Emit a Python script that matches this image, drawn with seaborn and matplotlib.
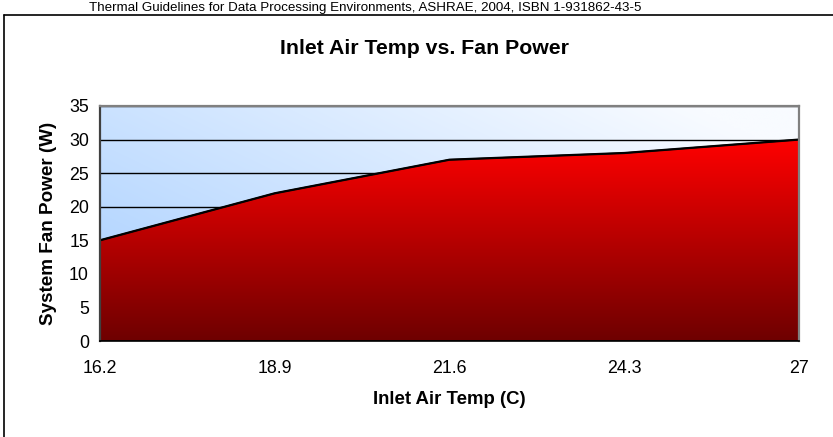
import numpy as np
import pandas as pd
import seaborn as sns
import matplotlib.pyplot as plt
from matplotlib.lines import Line2D
from matplotlib.colors import LinearSegmentedColormap

# ---- data ----
temps = ["16.2", "18.9", "21.6", "24.3", "27"]
power = [15, 22, 27, 28, 30]
yticks = [0, 5, 10, 15, 20, 25, 30, 35]

title = "Inlet Air Temp vs. Fan Power"
xlabel = "Inlet Air Temp (C)"
ylabel = "System Fan Power (W)"
source = "Thermal Guidelines for Data Processing Environments, ASHRAE, 2004, ISBN 1-931862-43-5"

df = pd.DataFrame({"pos": np.arange(len(temps)), "power": power})

sns.set_theme(style="white")
plt.rcParams['font.family'] = ['Liberation Sans', 'DejaVu Sans']
plt.rcParams['text.color'] = 'black'
plt.rcParams['axes.labelcolor'] = 'black'
plt.rcParams['xtick.color'] = 'black'
plt.rcParams['ytick.color'] = 'black'

W, H = 833, 437
fig = plt.figure(figsize=(W / 100, H / 100), dpi=100)
fig.patch.set_facecolor("white")
L, R, T, B = 100, 799, 106, 341
ax = fig.add_axes([L / W, (H - B) / H, (R - L) / W, (B - T) / H])

# background diagonal blue gradient
nx, ny = 200, 100
gx, gy = np.meshgrid(np.linspace(0, 1, nx), np.linspace(0, 1, ny))
s = np.clip(0.65 * gx + 0.45 * gy, 0, 1)
blue = np.array([166, 206, 255]) / 255
white = np.array([248, 251, 255]) / 255
bg = blue[None, None, :] * (1 - s[..., None]) + white[None, None, :] * s[..., None]
ax.imshow(bg, extent=[0, 1, 0, 1], transform=ax.transAxes, origin="lower",
          aspect="auto", zorder=-1, interpolation="bilinear")

# area fill with vertical red gradient
poly = ax.fill_between(df["pos"], 0, df["power"], facecolor="none",
                       edgecolor="black", linewidth=1.0, zorder=3)
reds = LinearSegmentedColormap.from_list("reds", ["#6e0000", "#ff0000"])
grad = np.linspace(0, 1, 256).reshape(-1, 1)
img = ax.imshow(grad, extent=[0, len(temps) - 1, 0, max(power)], origin="lower",
                cmap=reds, aspect="auto", zorder=2, interpolation="bilinear")
img.set_clip_path(poly.get_paths()[0], transform=ax.transData)

sns.lineplot(data=df, x="pos", y="power", color="black", linewidth=1.6,
             ax=ax, zorder=4)

ax.set_xlim(0, len(temps) - 1)
ax.set_ylim(0, 35)
ax.set_yticks(yticks)
ax.set_xticks(df["pos"])
ax.set_xticklabels(temps)
ax.yaxis.grid(True, color="black", linewidth=1.0)
ax.xaxis.grid(False)
ax.set_axisbelow(True)
for gl in ax.yaxis.get_gridlines():
    gl.set_zorder(1)

ax.tick_params(axis="both", direction="out", length=5, width=1,
               color="#404040", labelsize=12.8, labelcolor="black", pad=3)
ax.tick_params(axis="x", pad=9)

ax.spines["left"].set_color("#404040")
ax.spines["left"].set_linewidth(1.6)
ax.spines["bottom"].set_color("black")
ax.spines["bottom"].set_linewidth(1.2)
ax.spines["top"].set_color("#808080")
ax.spines["top"].set_linewidth(1.6)
ax.spines["right"].set_color("#808080")
ax.spines["right"].set_linewidth(1.6)
for sp in ax.spines.values():
    sp.set_visible(True)
    sp.set_zorder(5)

ax.set_xlabel(xlabel, fontsize=13.4, fontweight="bold", labelpad=10, color="black")
ax.set_ylabel(ylabel, fontsize=13.6, fontweight="bold", labelpad=9, color="black")

fig.text(425 / W, 1 - 48 / H, title, ha="center", va="center",
         fontsize=15.3, fontweight="bold", color="black")
fig.text(365 / W, 1 - 10.5 / H, source, ha="center", va="baseline",
         fontsize=9.6, color="black")

# chart border (top and left edges visible)
fig.add_artist(Line2D([4 / W, 1], [1 - 15 / H, 1 - 15 / H],
                      transform=fig.transFigure, color="black", lw=1.2))
fig.add_artist(Line2D([4 / W, 4 / W], [0, 1 - 15 / H],
                      transform=fig.transFigure, color="black", lw=1.2))

fig.savefig("out.png", dpi=100)
